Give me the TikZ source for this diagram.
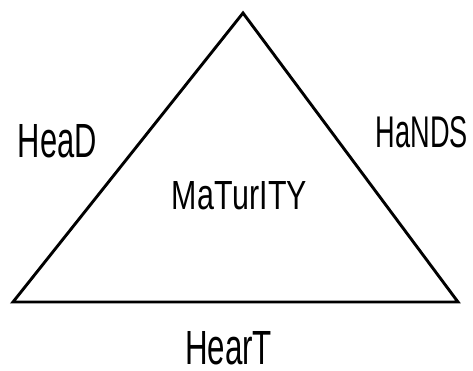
\documentclass[tikz,border=0pt]{standalone}
\usepackage{fontspec}
\setmainfont{Liberation Sans}
\newcommand{\lc}[1]{\scalebox{1}[1.06]{#1}}
\newcommand{\lbl}[3]{\resizebox{#1pt}{#2pt}{#3}}
\begin{document}
\begin{tikzpicture}[x=1pt,y=-1pt,
  lblstyle/.style={inner sep=0pt, anchor=center},
  edge/.style={line width=2.9pt, line join=miter}]
\useasboundingbox (0,0) rectangle (473,371);
\coordinate (apex) at (243,13);
\coordinate (bl) at (13,302);
\coordinate (br) at (458,302);
\draw[edge] (apex) -- (br) -- (bl) -- cycle;
\node[lblstyle] (head) at (57.5,141.5) {\lbl{79}{33}{H\lc{ea}D}};
\node[lblstyle] (hands) at (422,132.5) {\lbl{92}{31}{H\lc{a}NDS}};
\node[lblstyle] (maturity) at (239.5,196) {\lbl{135}{28}{M\lc{a}T\lc{ur}ITY}};
\node[lblstyle] (heart) at (228.5,348) {\lbl{87}{33}{H\lc{ear}T}};
\end{tikzpicture}
\end{document}
